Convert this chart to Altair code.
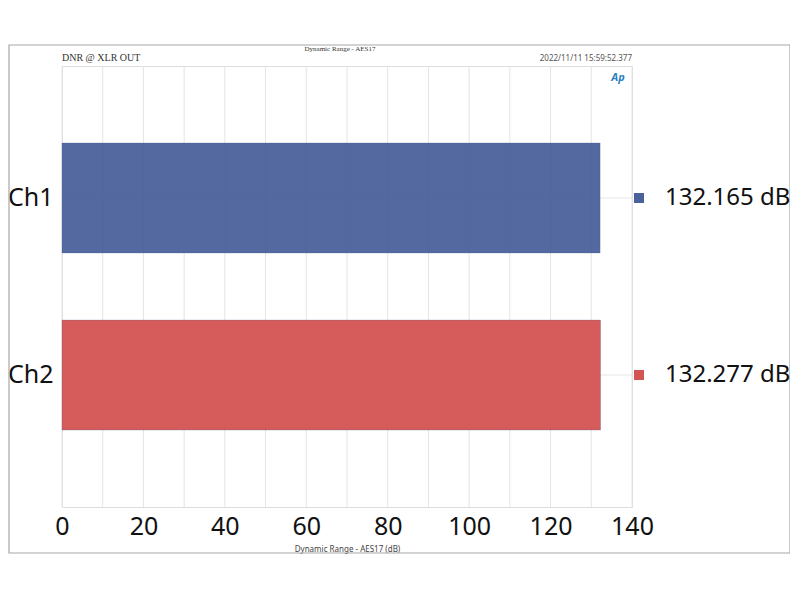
import altair as alt
import pandas as pd

channels = ["Ch1", "Ch2"]
values = [132.165, 132.277]
value_labels = ["132.165 dB", "132.277 dB"]
colors = ["#4a619b", "#d45454"]
x_ticks = [0, 20, 40, 60, 80, 100, 120, 140]
x_grid = list(range(0, 141, 10))

df = pd.DataFrame({"ch": channels, "val": values, "lab": value_labels, "col": colors})
grid_df = pd.DataFrame({"g": x_grid})

W, H = 570, 441
FONT = "Noto Sans"

xscale = alt.Scale(domain=[0, 140], nice=False, zero=True)
yscale = alt.Scale(domain=channels, paddingInner=0.379, paddingOuter=0.435)

xaxis = alt.Axis(values=x_ticks, title="Dynamic Range - AES17 (dB)", grid=False,
                 labelFontSize=25, labelFont=FONT, labelColor="#111111", labelFlush=False,
                 labelOverlap=False,
                 tickSize=0, labelPadding=7, domain=False,
                 titleFontSize=8, titleFont=FONT, titleFontWeight="normal",
                 titleColor="#444444", titlePadding=6)
yaxis = alt.Axis(title=None, labelFontSize=25, labelFont=FONT, labelColor="#111111",
                 tickSize=0, labelPadding=9, domain=False, grid=False)

base = alt.Chart(df)

frame = base.mark_rect(fill=None, stroke="#a8a8a8", strokeWidth=1.2).encode(
    x=alt.value(-53), x2=alt.value(728), y=alt.value(-21), y2=alt.value(487)
).transform_filter(alt.datum.ch == "Ch1")

vgrid = alt.Chart(grid_df).mark_rule(color="#e4e4e4", strokeWidth=1).encode(
    x=alt.X("g:Q", scale=xscale, axis=xaxis)
)

hgrid = base.mark_rule(color="#e6e6e6", strokeWidth=1).encode(
    y=alt.Y("ch:N", scale=yscale, sort=channels, axis=yaxis),
    x=alt.value(0), x2=alt.value(W)
)

bars = base.mark_bar(opacity=0.95, stroke="#3c4f80", strokeOpacity=0.25, strokeWidth=1).encode(
    x=alt.X("val:Q", scale=xscale, axis=xaxis),
    y=alt.Y("ch:N", scale=yscale, sort=channels, axis=yaxis),
    color=alt.Color("col:N", scale=None),
)

squares = base.mark_square(size=100, opacity=1).encode(
    x=alt.value(577),
    y=alt.Y("ch:N", scale=yscale, sort=channels, axis=yaxis),
    color=alt.Color("col:N", scale=None),
)

labels = base.mark_text(align="left", baseline="middle", fontSize=24, font=FONT, color="#111111").encode(
    x=alt.value(603),
    y=alt.Y("ch:N", scale=yscale, sort=channels, axis=yaxis),
    text="lab:N",
)

one = base.transform_filter(alt.datum.ch == "Ch1")
t_left = one.mark_text(text="DNR @ XLR OUT", align="left", baseline="bottom", fontSize=10,
                       font="Liberation Serif", color="#333333").encode(x=alt.value(0), y=alt.value(-3))
t_mid = one.mark_text(text="Dynamic Range - AES17", align="center", baseline="bottom", fontSize=7,
                      font="Liberation Serif", color="#333333").encode(x=alt.value(278), y=alt.value(-14))
t_right = one.mark_text(text="2022/11/11 15:59:52.377", align="right", baseline="bottom", fontSize=8,
                        font=FONT, color="#555555").encode(x=alt.value(W), y=alt.value(-3))
t_logo = one.mark_text(text="Ap", align="center", baseline="middle", fontSize=11, font=FONT,
                       fontStyle="italic", fontWeight="bold", color="#2a7fc0").encode(x=alt.value(556), y=alt.value(12))

chart = alt.layer(frame, vgrid, hgrid, bars, squares, labels, t_left, t_mid, t_right, t_logo).properties(
    width=W, height=H,
    autosize=alt.AutoSizeParams(type="none"),
    padding={"left": 54, "top": 58, "right": 158, "bottom": 50},
).configure_view(stroke="#a0a0a0", strokeWidth=1.2).configure(background="white")

chart.save("out.html", embed_options={"renderer": "svg", "actions": False})
